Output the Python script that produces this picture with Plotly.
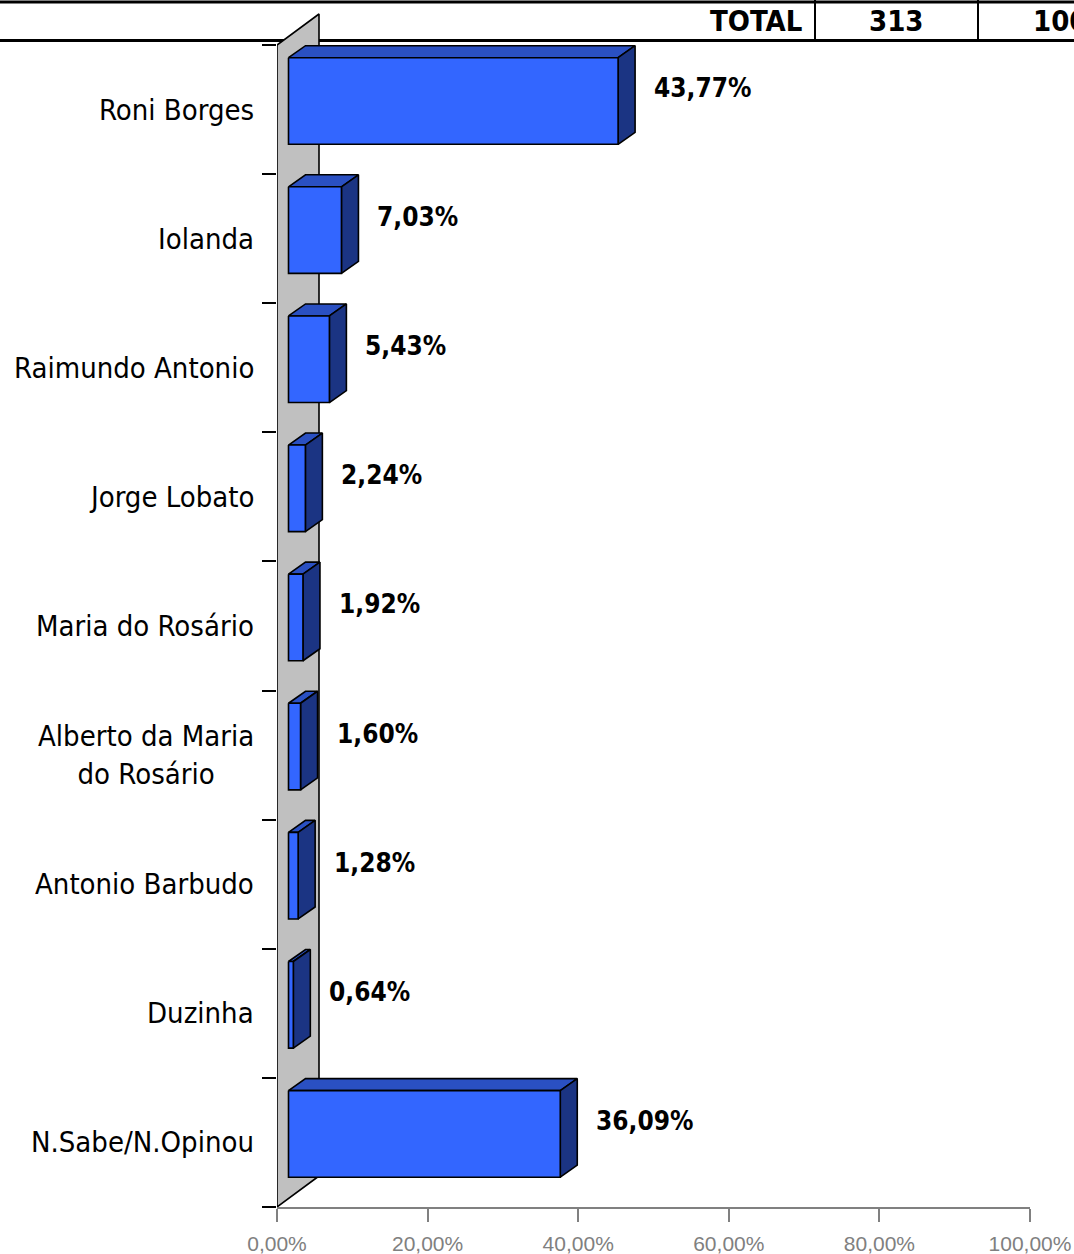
import plotly.graph_objects as go

# ---------------- data ----------------
categories = [
    "Roni Borges",
    "Iolanda",
    "Raimundo Antonio",
    "Jorge Lobato",
    "Maria do Rosário",
    "Alberto da Maria<br>do Rosário",
    "Antonio Barbudo",
    "Duzinha",
    "N.Sabe/N.Opinou",
]
values = [43.77, 7.03, 5.43, 2.24, 1.92, 1.60, 1.28, 0.64, 36.09]
x_tickvals = [0, 20, 40, 60, 80, 100]
x_ticktext = ["0,00%", "20,00%", "40,00%", "60,00%", "80,00%", "100,00%"]
table_cells = ["TOTAL", "313", "100%"]

# ---------------- layout geometry ----------------
W, H = 1074, 1254
ML, MR, MT, MB = 277, 44, 0, 47
PW = W - ML - MR
PH = H - MT - MB
n = len(categories)
Y_TOP = -0.3486
XMAX = 100.0

XS = XMAX / PW              # data units per px (x)
YS = (n - Y_TOP) / PH       # data units per px (y)

FONT = "DejaVu Sans Condensed, DejaVu Sans, sans-serif"

FRONT = "#3366FF"
TOPC = "#2A50C2"
SIDE = "#1B3483"

def px2paper_x(px):
    return (px - ML) / PW

def px2paper_y(py):
    return (H - MB - py) / PH

fig = go.Figure()

def poly(xs, ys, fill):
    fig.add_trace(go.Scatter(
        x=xs + [xs[0]], y=ys + [ys[0]], mode="lines", fill="toself",
        fillcolor=fill, line=dict(color="black", width=1.6),
        hoverinfo="skip", showlegend=False))

# back wall (3D floor/wall on the category axis)
wdx, wdy = 42 * XS, 31 * YS
poly([0, wdx, wdx, 0], [0, -wdy, n - wdy, n], "#C0C0C0")

# bars
d0 = 11.5 * XS          # front face offset from axis
bdx, bdy = 17 * XS, 12 * YS
f_top, f_bot = 12.7 * YS, 99.3 * YS
for i, v in enumerate(values):
    x0, x1 = d0, d0 + v
    yt, yb = i + f_top, i + f_bot
    # top face
    poly([x0, x0 + bdx, x1 + bdx, x1], [yt, yt - bdy, yt - bdy, yt], TOPC)
    # side face
    poly([x1, x1 + bdx, x1 + bdx, x1], [yt, yt - bdy, yb - bdy, yb], SIDE)
    # front face
    poly([x0, x1, x1, x0], [yt, yt, yb, yb], FRONT)

annotations = []
# data labels
for i, v in enumerate(values):
    txt = f"{v:.2f}".replace(".", ",") + "%"
    annotations.append(dict(
        x=d0 + v + bdx + 17 * XS, y=i + 43 * YS, xref="x", yref="y",
        text=txt, showarrow=False, xanchor="left", yanchor="middle",
        font=dict(family=FONT, size=26, color="black", weight="bold")))

# category labels
for i, c in enumerate(categories):
    annotations.append(dict(
        x=px2paper_x(256), y=i + 0.5, xref="paper", yref="y",
        text=c, showarrow=False, xanchor="right", yanchor="middle",
        align="center",
        font=dict(family=FONT, size=29, color="black")))

# table header row text
annotations.append(dict(
    x=px2paper_x(804), y=px2paper_y(21), xref="paper", yref="paper",
    text=table_cells[0], showarrow=False, xanchor="right", yanchor="middle",
    font=dict(family=FONT, size=29, color="black", weight="bold")))
annotations.append(dict(
    x=px2paper_x(896), y=px2paper_y(21), xref="paper", yref="paper",
    text=table_cells[1], showarrow=False, xanchor="center", yanchor="middle",
    font=dict(family=FONT, size=29, color="black", weight="bold")))
annotations.append(dict(
    x=px2paper_x(1031), y=px2paper_y(21), xref="paper", yref="paper",
    text=table_cells[2], showarrow=False, xanchor="left", yanchor="middle",
    font=dict(family=FONT, size=29, color="black", weight="bold")))

shapes = [
    dict(type="line", xref="paper", yref="paper",
         x0=px2paper_x(0), x1=px2paper_x(W), y0=px2paper_y(2), y1=px2paper_y(2),
         line=dict(color="black", width=3), layer="below"),
    dict(type="line", xref="paper", yref="paper",
         x0=px2paper_x(0), x1=px2paper_x(W), y0=px2paper_y(40.5), y1=px2paper_y(40.5),
         line=dict(color="black", width=3), layer="below"),
    dict(type="line", xref="paper", yref="paper",
         x0=px2paper_x(815), x1=px2paper_x(815), y0=px2paper_y(0), y1=px2paper_y(40),
         line=dict(color="black", width=2), layer="below"),
    dict(type="line", xref="paper", yref="paper",
         x0=px2paper_x(978), x1=px2paper_x(978), y0=px2paper_y(0), y1=px2paper_y(40),
         line=dict(color="black", width=2), layer="below"),
]

fig.update_layout(
    width=W, height=H, autosize=False,
    margin=dict(l=ML, r=MR, t=MT, b=MB, pad=0),
    paper_bgcolor="white", plot_bgcolor="white",
    showlegend=False,
    annotations=annotations, shapes=shapes,
    xaxis=dict(range=[0, XMAX], tickvals=x_tickvals, ticktext=x_ticktext,
               ticks="outside", ticklen=13, tickwidth=2, tickcolor="#808080",
               showline=True, linecolor="#808080", linewidth=2,
               showgrid=False, zeroline=False, fixedrange=True,
               ticklabelstandoff=4,
               tickfont=dict(family="Liberation Sans, Arial, sans-serif",
                             size=21, color="#808080")),
    yaxis=dict(range=[n, Y_TOP], tickvals=list(range(n + 1)),
               ticks="outside", ticklen=14, tickwidth=1.6, tickcolor="black",
               showticklabels=False, showline=False, showgrid=False,
               zeroline=False, fixedrange=True),
)

fig.write_html(
    "out.html",
    config={"displayModeBar": False},
    post_script="document.body.style.margin='0';document.body.style.overflow='hidden';",
)
